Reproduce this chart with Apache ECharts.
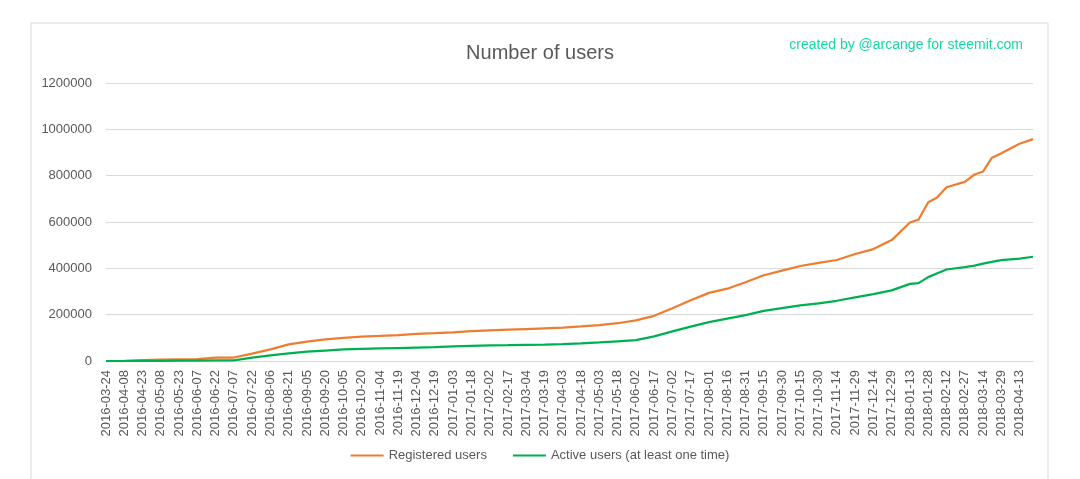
<!DOCTYPE html>
<html lang="en" style="height: 100%">
<head>
  <meta charset="utf-8">
</head>
<body style="height: 100%; margin: 0; background: #fff">
  <div id="container" style="width: 1080px; height: 479px"></div>

  <script type="text/javascript" src="https://cdn.jsdelivr.net/npm/echarts@6/dist/echarts.min.js"></script>

  <script type="text/javascript">
    const sampleDates = [
      '2016-03-24', '2016-04-08', '2016-04-23', '2016-05-08', '2016-05-23', '2016-06-07',
      '2016-06-22', '2016-07-07', '2016-07-22', '2016-08-06', '2016-08-21', '2016-09-05',
      '2016-09-20', '2016-10-05', '2016-10-20', '2016-11-04', '2016-11-19', '2016-12-04',
      '2016-12-19', '2017-01-03', '2017-01-18', '2017-02-02', '2017-02-17', '2017-03-04',
      '2017-03-19', '2017-04-03', '2017-04-18', '2017-05-03', '2017-05-18', '2017-06-02',
      '2017-06-17', '2017-07-02', '2017-07-17', '2017-08-01', '2017-08-16', '2017-08-31',
      '2017-09-15', '2017-09-30', '2017-10-15', '2017-10-30', '2017-11-14', '2017-11-29',
      '2017-12-14', '2017-12-29', '2018-01-13', '2018-01-20', '2018-01-28', '2018-02-04',
      '2018-02-12', '2018-02-27', '2018-03-07', '2018-03-14', '2018-03-21', '2018-03-29',
      '2018-04-13', '2018-04-24'
    ];
    const registeredUsers = [
      0, 1000, 4000, 6000, 7000, 8000,
      15000, 15000, 32000, 50000, 72000, 84000,
      93000, 100000, 105000, 108000, 112000, 117000,
      120000, 124000, 129000, 132000, 135000, 138000,
      141000, 144000, 149000, 155000, 163000, 175000,
      195000, 228000, 262000, 294000, 312000, 340000,
      370000, 390000, 410000, 424000, 436000, 462000,
      483000, 522000, 598000, 610000, 685000, 705000,
      750000, 773000, 805000, 818000, 876000, 897000,
      938000, 958000
    ];
    const activeUsers = [
      0, 0, 500, 1000, 1500, 2000,
      2500, 3000, 15000, 24000, 33000, 40000,
      45000, 50000, 52000, 54000, 56000, 58000,
      60000, 63000, 65000, 67000, 68000, 70000,
      71000, 73000, 76000, 80000, 85000, 90000,
      106000, 128000, 148000, 168000, 183000, 198000,
      216000, 228000, 240000, 249000, 260000, 275000,
      289000, 305000, 333000, 336000, 362000, 378000,
      395000, 405000, 412000, 420000, 428000, 435000,
      442000, 450000
    ];
    const yTicks = { min: 0, max: 1200000, interval: 200000 };

    // daily categories (Excel date axis)
    const days = [];
    const startMs = Date.parse(sampleDates[0] + 'T00:00:00Z');
    const endMs = Date.parse(sampleDates[sampleDates.length - 1] + 'T00:00:00Z');
    for (let t = startMs; t <= endMs; t += 86400000) {
      days.push(new Date(t).toISOString().slice(0, 10));
    }
    function toSeries(values) {
      const arr = days.map(function () { return null; });
      sampleDates.forEach(function (d, i) {
        arr[days.indexOf(d)] = values[i];
      });
      return arr;
    }

    var dom = document.getElementById('container');
    var myChart = echarts.init(dom, null, { renderer: 'canvas' });
    var option;

    const txt = '#595959';
    const font = 'Liberation Sans';

    option = {
      backgroundColor: '#fff',
      animation: false,
      graphic: [
        {
          type: 'rect',
          shape: { x: 31, y: 23, width: 1017, height: 480 },
          style: { fill: 'none', stroke: '#d9d9d9', lineWidth: 1 },
          silent: true
        }
      ],
      title: [
        {
          text: 'Number of users',
          left: 'center',
          top: 38,
          textStyle: { color: txt, fontSize: 20, fontWeight: 'normal', fontFamily: font }
        },
        {
          text: 'created by @arcange for steemit.com',
          right: 52,
          top: 33,
          textStyle: { color: '#14d9a4', fontSize: 14, fontWeight: 'normal', fontFamily: font }
        }
      ],
      legend: {
        bottom: 12,
        left: 'center',
        icon: 'rect',
        itemWidth: 33,
        itemHeight: 2,
        itemGap: 26,
        textStyle: { color: txt, fontSize: 13, fontFamily: font },
        data: ['Registered users', 'Active users (at least one time)']
      },
      grid: {
        left: 106,
        right: 47,
        top: 83,
        bottom: 118
      },
      xAxis: {
        type: 'category',
        boundaryGap: false,
        data: days,
        axisLine: { lineStyle: { color: '#d9d9d9' } },
        axisTick: { show: false },
        axisLabel: {
          interval: 14,
          rotate: 90,
          color: txt,
          fontSize: 13,
          fontFamily: font,
          margin: 9
        },
        splitLine: { show: false }
      },
      yAxis: {
        type: 'value',
        min: yTicks.min,
        max: yTicks.max,
        interval: yTicks.interval,
        axisLine: { show: false },
        axisTick: { show: false },
        axisLabel: {
          color: txt,
          fontSize: 13,
          fontFamily: font,
          margin: 14,
          formatter: function (v) { return String(v); }
        },
        splitLine: { lineStyle: { color: '#d9d9d9' } }
      },
      series: [
        {
          name: 'Registered users',
          type: 'line',
          data: toSeries(registeredUsers),
          connectNulls: true,
          showSymbol: false,
          lineStyle: { color: '#ed7d31', width: 2.25 },
          itemStyle: { color: '#ed7d31' }
        },
        {
          name: 'Active users (at least one time)',
          type: 'line',
          data: toSeries(activeUsers),
          connectNulls: true,
          showSymbol: false,
          lineStyle: { color: '#00b050', width: 2.25 },
          itemStyle: { color: '#00b050' }
        }
      ]
    };

    if (option && typeof option === 'object') {
      myChart.setOption(option);
    }

    window.addEventListener('resize', myChart.resize);
  </script>
</body>
</html>
